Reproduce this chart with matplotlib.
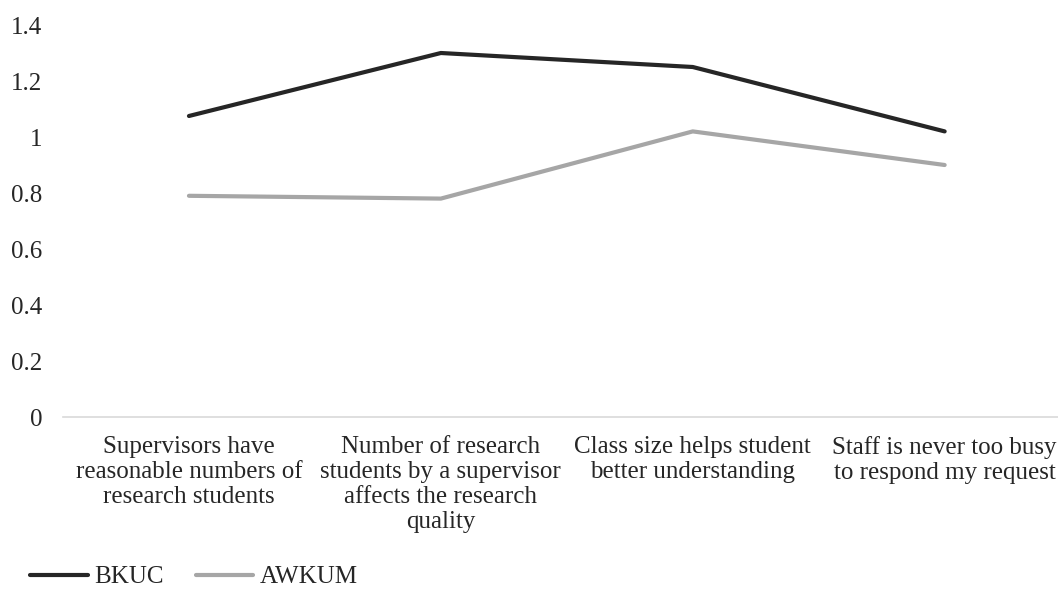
import matplotlib.pyplot as plt

plt.rcParams['font.family'] = ['Liberation Serif', 'DejaVu Serif']

# categories (wrapped as in the source)
categories = [
    "Supervisors have\nreasonable numbers of\nresearch students",
    "Number of research\nstudents by a supervisor\naffects the research\nquality",
    "Class size helps student\nbetter understanding",
    "Staff is never too busy\nto respond my request",
]
bkuc = [1.075, 1.30, 1.25, 1.02]
awkum = [0.79, 0.78, 1.02, 0.90]
yticks = [0, 0.2, 0.4, 0.6, 0.8, 1.0, 1.2, 1.4]
yticklabels = ["0", "0.2", "0.4", "0.6", "0.8", "1", "1.2", "1.4"]

fig = plt.figure(figsize=(10.58, 5.92), dpi=100)
ax = fig.add_axes([63 / 1058, 175 / 592, 995 / 1058, 392 / 592])

x = list(range(len(categories)))
ax.plot(x, bkuc, color="#262626", linewidth=3, solid_capstyle="round", label="BKUC")
ax.plot(x, awkum, color="#a6a6a6", linewidth=3, solid_capstyle="round", label="AWKUM")

ax.set_xlim(-0.5, 3.45)
ax.set_ylim(0, 1.4)
ax.set_yticks(yticks)
ax.set_yticklabels(yticklabels)
ax.set_xticks(x)
ax.set_xticklabels(categories, linespacing=1.16)

for s in ["top", "right", "left"]:
    ax.spines[s].set_visible(False)
ax.spines["bottom"].set_color("#d9d9d9")
ax.spines["bottom"].set_linewidth(1.2)

ax.tick_params(axis="y", length=0, pad=15, labelsize=18, labelcolor="#262626")
ax.tick_params(axis="x", length=0, pad=14, labelsize=18, labelcolor="#262626")

fig.legend(loc="center left", bbox_to_anchor=(30 / 1058, 1 - 577 / 592), ncol=2,
           frameon=False, fontsize=18, handlelength=2.3, handletextpad=0.25,
           columnspacing=1.3, borderpad=0, borderaxespad=0, labelcolor="#262626")

fig.savefig("out.png", dpi=100)
